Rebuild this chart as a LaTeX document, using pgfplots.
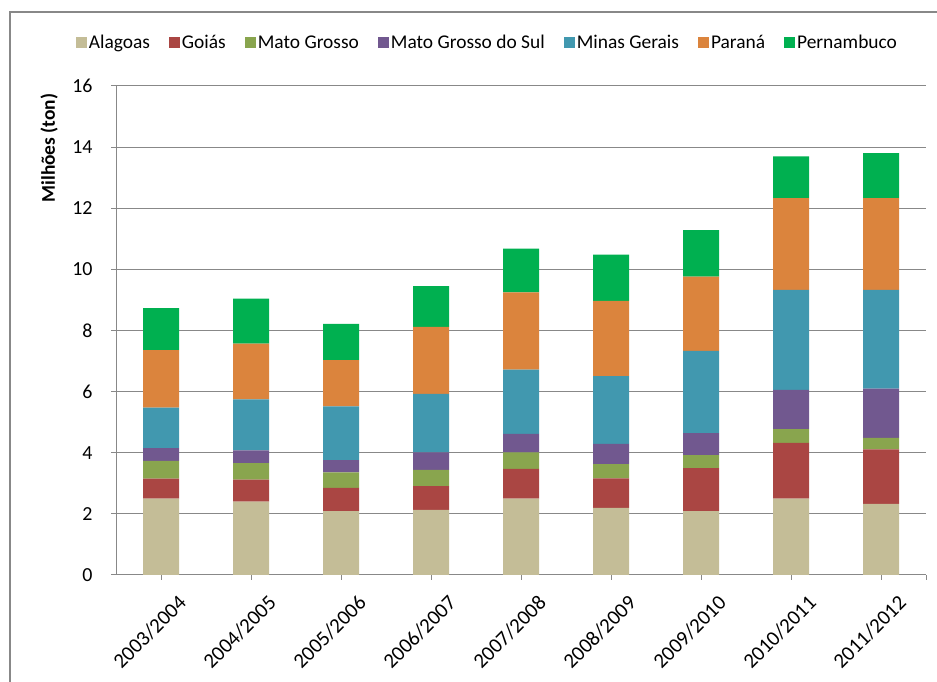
\documentclass[border=0pt]{standalone}
\usepackage{pgfplots}
\usepackage{pgfplotstable}
\pgfplotsset{compat=1.18}
\usepackage{fontspec}
\setmainfont{Carlito}

\definecolor{cAlagoas}{HTML}{C4BD97}
\definecolor{cGoias}{HTML}{AA4643}
\definecolor{cMT}{HTML}{89A54E}
\definecolor{cMS}{HTML}{71588F}
\definecolor{cMinas}{HTML}{4198AF}
\definecolor{cParana}{HTML}{DB843D}
\definecolor{cPern}{HTML}{00B050}
\definecolor{axisgray}{HTML}{888888}

% Production by state and harvest season, millions of tonnes
\pgfplotstableread{
x  alagoas goias mt   ms   minas parana pern
0  2.50    0.65  0.58 0.42 1.33  1.88   1.37
1  2.40    0.72  0.54 0.42 1.67  1.82   1.47
2  2.09    0.76  0.51 0.40 1.76  1.51   1.19
3  2.13    0.78  0.53 0.57 1.92  2.19   1.33
4  2.50    0.97  0.54 0.61 2.10  2.53   1.43
5  2.20    0.96  0.47 0.66 2.22  2.46   1.51
6  2.09    1.41  0.42 0.72 2.69  2.43   1.52
7  2.50    1.82  0.45 1.29 3.27  3.00   1.37
8  2.33    1.78  0.38 1.61 3.23  3.00   1.47
}\prodtable

\pgfplotsset{
  sqlegend/.style={legend image code/.code={\fill[##1,draw=none] (0bp,-5.5bp) rectangle (11bp,5.5bp);}},
}

\begin{document}
\begin{tikzpicture}[x=1bp,y=1bp]
\path[use as bounding box] (0,0) rectangle (937,682);
\draw[axisgray, line width=1.5bp] (10,-10) -- (10,670) -- (950,670);
\begin{axis}[
  at={(116bp,107bp)}, anchor=south west,
  scale only axis, width=810bp, height=489bp,
  ybar stacked, bar width=36bp,
  xmin=-0.5, xmax=8.5, ymin=0, ymax=16,
  xtick={0,...,8},
  xticklabels={2003/2004,2004/2005,2005/2006,2006/2007,2007/2008,2008/2009,2009/2010,2010/2011,2011/2012},
  extra x ticks={8.5}, extra x tick labels={},
  ytick={0,2,...,16},
  axis lines=left, axis line style={-, axisgray, line width=1bp},
  tick style={axisgray, line width=1bp},
  tick align=outside, major tick length=5bp,
  ymajorgrids, grid style={axisgray, line width=1bp},
  /pgf/number format/assume math mode=true,
  ticklabel style={text=black},
  yticklabel style={font=\fontsize{20}{24}\selectfont, anchor=east, xshift=-15bp},
  xticklabel style={font=\fontsize{21}{25}\selectfont, rotate=45, anchor=east, xshift=5bp, yshift=-29bp},
  ylabel={Milhões (ton)},
  ylabel style={font=\bfseries\fontsize{19.5}{23}\selectfont, at={(axis description cs:-0.0827,0.873)}, anchor=center},
  legend columns=7,
  legend style={draw=none, fill=none, at={(axis description cs:0.4585,1.088)}, anchor=center,
    font=\fontsize{19.5}{23}\selectfont, column sep=0bp,
    /tikz/every even column/.append style={column sep=17bp}},
  legend cell align=left,
]
\addplot[fill=cAlagoas, draw=none, sqlegend] table[x=x, y=alagoas] {\prodtable};
\addplot[fill=cGoias,   draw=none, sqlegend] table[x=x, y=goias]   {\prodtable};
\addplot[fill=cMT,      draw=none, sqlegend] table[x=x, y=mt]      {\prodtable};
\addplot[fill=cMS,      draw=none, sqlegend] table[x=x, y=ms]      {\prodtable};
\addplot[fill=cMinas,   draw=none, sqlegend] table[x=x, y=minas]   {\prodtable};
\addplot[fill=cParana,  draw=none, sqlegend] table[x=x, y=parana]  {\prodtable};
\addplot[fill=cPern,    draw=none, sqlegend] table[x=x, y=pern]    {\prodtable};
\legend{Alagoas,Goiás,Mato Grosso,Mato Grosso do Sul,Minas Gerais,Paraná,Pernambuco}
\end{axis}
\end{tikzpicture}
\end{document}
